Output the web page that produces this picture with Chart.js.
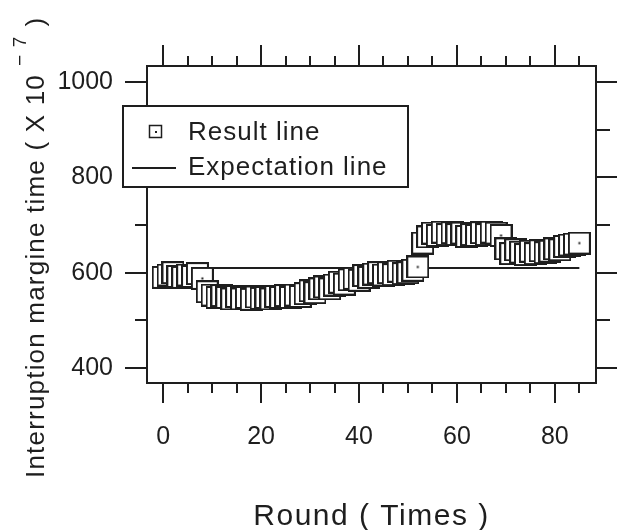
<!DOCTYPE html>
<html>
<head>
<meta charset="utf-8">
<script src="https://cdn.jsdelivr.net/npm/chart.js@4.4.1/dist/chart.umd.min.js"></script>
<style>
  body { margin: 0; background: #fff; }
  #cadre { width: 620px; height: 530px; }
</style>
</head>
<body>
<div id="cadre"><canvas id="graphique"></canvas></div>
<script>
// Données
const rounds = [0, 1, 2, 3, 4, 5, 6, 7, 8, 9, 10, 11, 12, 13, 14, 15, 16, 17, 18, 19,
  20, 21, 22, 23, 24, 25, 26, 27, 28, 29, 30, 31, 32, 33, 34, 35, 36, 37, 38, 39,
  40, 41, 42, 43, 44, 45, 46, 47, 48, 49, 50, 51, 52, 53, 54, 55, 56, 57, 58, 59,
  60, 61, 62, 63, 64, 65, 66, 67, 68, 69, 70, 71, 72, 73, 74, 75, 76, 77, 78, 79,
  80, 81, 82, 83, 84, 85];
const resultValues = [590, 595, 600, 592, 590, 595, 592, 598, 588, 560,
  553, 548, 552, 548, 545, 550, 545, 548, 544, 549,
  546, 548, 545, 550, 548, 552, 548, 553, 550, 556,
  562, 558, 566, 570, 566, 574, 580, 576, 585, 588,
  584, 594, 590, 597, 600, 595, 600, 596, 603, 598,
  600, 605, 612, 662, 675, 683, 678, 685, 680, 684,
  680, 683, 676, 680, 678, 684, 680, 685, 683, 678,
  650, 640, 648, 643, 638, 645, 640, 646, 642, 645,
  650, 648, 655, 658, 660, 662];
const expectationX = [0, 85];
const expectationY = [610, 610];

// Graduations
const xTicks = [0, 5, 10, 15, 20, 25, 30, 35, 40, 45, 50, 55, 60, 65, 70, 75, 80, 85];
const xLabels = [0, 20, 40, 60, 80];
const yTicks = [400, 500, 600, 700, 800, 900, 1000];
const yLabels = [400, 600, 800, 1000];

const couleur = '#1e1e1e';
const police = "'Liberation Sans', Arial, sans-serif";

// Marqueur carré blanc avec un point au centre
function faireMarqueur(taille) {
    const c = document.createElement('canvas');
    c.width = taille;
    c.height = taille;
    const g = c.getContext('2d');
    g.fillStyle = '#fff';
    g.fillRect(1, 1, taille - 2, taille - 2);
    g.strokeStyle = couleur;
    g.lineWidth = 2;
    g.strokeRect(1, 1, taille - 2, taille - 2);
    g.fillStyle = couleur;
    g.fillRect(taille / 2 - 1, taille / 2 - 1, 2, 2);
    return c;
}
const marqueur = faireMarqueur(23);

function trait(ctx, x1, y1, x2, y2) {
    ctx.beginPath();
    ctx.moveTo(x1, y1);
    ctx.lineTo(x2, y2);
    ctx.stroke();
}

// Petits traits de graduation autour du cadre
const traitsGraduation = {
    id: 'traitsGraduation',
    afterDraw(chart) {
        const ctx = chart.ctx;
        const zone = chart.chartArea;
        ctx.save();
        ctx.strokeStyle = couleur;
        ctx.lineWidth = 2;
        xTicks.forEach(v => {
            const px = Math.round(chart.scales.x.getPixelForValue(v));
            const majeur = xLabels.includes(v);
            trait(ctx, px, zone.bottom, px, zone.bottom + (majeur ? 20 : 10));
            trait(ctx, px, zone.top, px, zone.top - (majeur ? 21 : 10));
        });
        yTicks.forEach(v => {
            const py = Math.round(chart.scales.y.getPixelForValue(v));
            const majeur = yLabels.includes(v);
            trait(ctx, zone.left, py, zone.left - (majeur ? 22 : 12), py);
            trait(ctx, zone.right, py, zone.right + (majeur ? 21 : 14), py);
        });
        ctx.restore();
    }
};

// Légende encadrée et titres des axes
const legendeEtTitres = {
    id: 'legendeEtTitres',
    afterDraw(chart) {
        const ctx = chart.ctx;
        const zone = chart.chartArea;
        const sets = chart.data.datasets;
        ctx.save();
        ctx.letterSpacing = '1px';
        ctx.fillStyle = '#fff';
        ctx.fillRect(123, 106, 285, 81);
        ctx.strokeStyle = couleur;
        ctx.lineWidth = 2;
        ctx.strokeRect(123, 106, 285, 81);

        // carré de la légende
        ctx.lineWidth = 1.5;
        ctx.strokeRect(149.5, 125.5, 12, 12);
        ctx.fillStyle = couleur;
        ctx.fillRect(155, 131, 2, 2);
        // trait de la légende
        ctx.lineWidth = 2;
        trait(ctx, 132, 168, 176, 168);

        ctx.font = '26px ' + police;
        ctx.textBaseline = 'middle';
        ctx.textAlign = 'left';
        ctx.fillText(sets[0].label, 188, 133);
        ctx.fillText(sets[1].label, 188, 168);

        // titre de l'axe X
        ctx.letterSpacing = '1.5px';
        ctx.font = '30px ' + police;
        ctx.textAlign = 'center';
        ctx.fillText('Round ( Times )', (zone.left + zone.right) / 2, 517);

        // titre de l'axe Y (vertical, avec exposant)
        ctx.letterSpacing = '1.2px';
        ctx.translate(37, 478);
        ctx.rotate(-Math.PI / 2);
        ctx.textAlign = 'left';
        ctx.font = '26px ' + police;
        const base = 'Interruption margine time ( X 10';
        ctx.fillText(base, 0, 0);
        let pos = ctx.measureText(base).width + 8;
        ctx.font = '19px ' + police;
        ctx.fillText('\u2212 7', pos, -16);
        pos += ctx.measureText('\u2212 7').width + 9;
        ctx.font = '26px ' + police;
        ctx.fillText(')', pos, 0);
        ctx.restore();
    }
};

// Fonction pour créer le graphique
function faireGraphique(canvasId) {
    const ctx = document.getElementById(canvasId).getContext('2d');
    new Chart(ctx, {
        type: 'scatter',
        data: {
            datasets: [{
                label: 'Result line',
                data: rounds.map((r, i) => ({ x: r, y: resultValues[i] })),
                pointStyle: marqueur,
                pointRadius: 11,
                showLine: false
            }, {
                label: 'Expectation line',
                data: expectationX.map((r, i) => ({ x: r, y: expectationY[i] })),
                showLine: true,
                borderColor: couleur,
                borderWidth: 2,
                pointRadius: 0
            }]
        },
        options: {
            responsive: true,
            maintainAspectRatio: false,
            animation: false,
            layout: { padding: 0 },
            plugins: {
                legend: { display: false },
                tooltip: { enabled: false }
            },
            scales: {
                x: {
                    type: 'linear',
                    position: 'bottom',
                    min: -3.3,
                    max: 88.4,
                    afterBuildTicks: s => { s.ticks = xTicks.map(v => ({ value: v })); },
                    afterFit: s => { s.height = 147; },
                    grid: { display: false, drawTicks: false },
                    border: { display: true, width: 2, color: couleur },
                    ticks: {
                        autoSkip: false,
                        maxRotation: 0,
                        padding: 39,
                        color: couleur,
                        font: { family: police, size: 25 },
                        callback: v => xLabels.includes(v) ? v : ''
                    }
                },
                x2: {
                    type: 'linear',
                    position: 'top',
                    min: -3.3,
                    max: 88.4,
                    afterFit: s => { s.height = 66; },
                    grid: { display: false, drawTicks: false },
                    border: { display: true, width: 2, color: couleur },
                    ticks: { display: false }
                },
                y: {
                    type: 'linear',
                    position: 'left',
                    min: 368.5,
                    max: 1033.6,
                    afterBuildTicks: s => { s.ticks = yTicks.map(v => ({ value: v })); },
                    afterFit: s => { s.width = 147; },
                    grid: { display: false, drawTicks: false },
                    border: { display: true, width: 2, color: couleur },
                    ticks: {
                        autoSkip: false,
                        padding: 34,
                        color: couleur,
                        font: { family: police, size: 25 },
                        callback: v => yLabels.includes(v) ? v : ''
                    }
                },
                y2: {
                    type: 'linear',
                    position: 'right',
                    min: 368.5,
                    max: 1033.6,
                    afterFit: s => { s.width = 24; },
                    grid: { display: false, drawTicks: false },
                    border: { display: true, width: 2, color: couleur },
                    ticks: { display: false }
                }
            }
        },
        plugins: [traitsGraduation, legendeEtTitres]
    });
}

faireGraphique('graphique');
</script>
</body>
</html>
